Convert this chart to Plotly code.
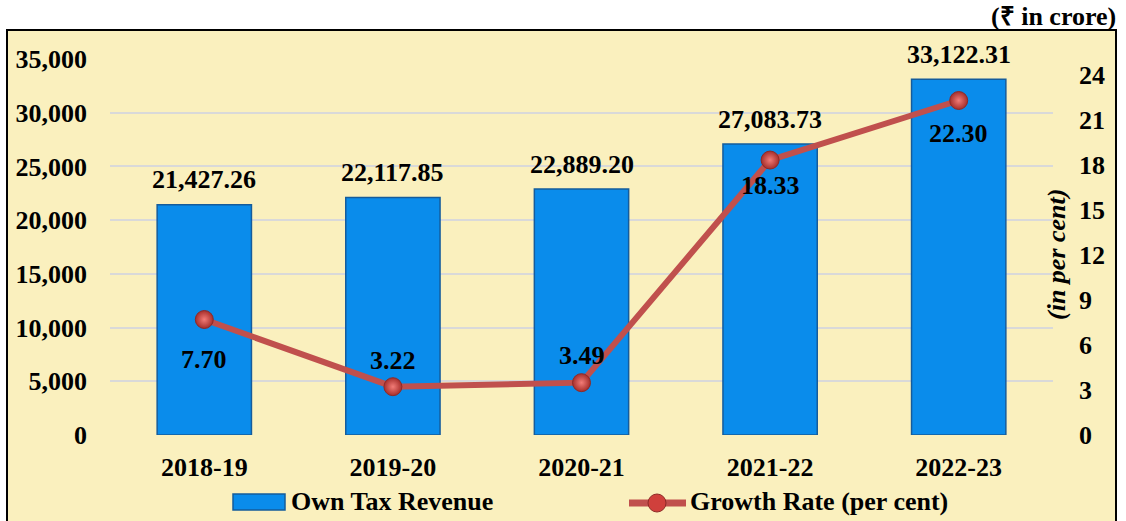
import plotly.graph_objects as go

years = ["2018-19", "2019-20", "2020-21", "2021-22", "2022-23"]
own_tax_revenue = [21427.26, 22117.85, 22889.20, 27083.73, 33122.31]
growth_rate = [7.70, 3.22, 3.49, 18.33, 22.30]
growth_label_shift = [-40, 26, 27, -25, -33]   # label offset (px) from point

FONT = "Liberation Serif"
BG = "#FAF0BE"
FS = 26

# plot area in pixels: x 110..1053, y 59..435
PL, PR, PT, PB = 110, 1053, 59, 435
def px(x):
    return (x - PL) / (PR - PL)
def py(y):
    return (PB - y) / (PB - PT)

fig = go.Figure()

fig.add_trace(go.Bar(
    x=years, y=own_tax_revenue, name="Own Tax Revenue",
    marker=dict(color="#0A8CEB", line=dict(color="#155C9C", width=1.5)),
    width=0.5, yaxis="y", showlegend=False,
))

fig.add_trace(go.Scatter(
    x=years, y=growth_rate, name="Growth Rate (per cent)", yaxis="y2",
    mode="lines+markers",
    line=dict(color="#C0504D", width=6),
    marker=dict(size=18, color="#A62E2B",
                gradient=dict(type="radial", color="#F27C77"),
                line=dict(color="#8E2A27", width=1)),
    showlegend=False,
))

bold = dict(family=FONT, size=FS, color="black", weight="bold")
annotations = []
for x, v in zip(years, own_tax_revenue):
    annotations.append(dict(x=x, y=v, xref="x", yref="y", text=f"{v:,.2f}",
                            showarrow=False, yanchor="middle", yshift=25, font=bold))
for x, v, s in zip(years, growth_rate, growth_label_shift):
    annotations.append(dict(x=x, y=v, xref="x", yref="y2", text=f"{v:.2f}",
                            showarrow=False, yanchor="middle", yshift=s, font=bold))
annotations.append(dict(x=px(1057), xref="paper", xanchor="center",
                        y=py(255), yref="paper", yanchor="middle",
                        text="<i>(in per cent)</i>", textangle=-90, showarrow=False,
                        font=bold))
annotations.append(dict(x=px(1118), xref="paper", xanchor="right",
                        y=py(16), yref="paper", yanchor="middle",
                        text="(₹ in crore)", showarrow=False, font=bold))
# legend texts
annotations.append(dict(x=px(289), xref="paper", xanchor="left",
                        y=py(502), yref="paper", yanchor="middle",
                        text="Own Tax Revenue", showarrow=False, font=bold))
annotations.append(dict(x=px(688), xref="paper", xanchor="left",
                        y=py(502), yref="paper", yanchor="middle",
                        text="Growth Rate (per cent)", showarrow=False, font=bold))

shapes = [
    dict(type="rect", xref="paper", yref="paper",
         x0=px(7), x1=px(1116), y0=py(530), y1=py(30),
         fillcolor=BG, line=dict(color="black", width=2), layer="below"),
    # legend symbols
    dict(type="rect", xref="paper", yref="paper",
         x0=px(233), x1=px(285), y0=py(510), y1=py(494),
         fillcolor="#0A8CEB", line=dict(color="#155C9C", width=1.5)),
    dict(type="line", xref="paper", yref="paper",
         x0=px(629), x1=px(686), y0=py(503), y1=py(503),
         line=dict(color="#C0504D", width=7)),
    dict(type="circle", xref="paper", yref="paper",
         x0=px(648), x1=px(666), y0=py(512), y1=py(494),
         fillcolor="#D0403C", line=dict(color="#8E2A27", width=1)),
]

fig.update_layout(
    width=1126, height=521,
    margin=dict(l=PL, r=1126 - PR, t=PT, b=521 - PB, autoexpand=False),
    paper_bgcolor="white", plot_bgcolor=BG,
    font=bold,
    showlegend=False,
    xaxis=dict(showgrid=False, ticks="", ticklabelstandoff=14, showline=False,
               tickfont=bold),
    yaxis=dict(range=[0, 35000], tickvals=list(range(0, 35001, 5000)),
               tickformat=",d", showgrid=True, gridcolor="#D9D9D9", gridwidth=2,
               zeroline=False, ticklabelstandoff=22, showline=False, tickfont=bold),
    yaxis2=dict(range=[0, (PB - PT) / 15], tickvals=list(range(0, 25, 3)), overlaying="y",
                side="right", showgrid=False, zeroline=False, ticklabelstandoff=25,
                showline=False, tickfont=bold),
    annotations=annotations,
    shapes=shapes,
)

fig.write_html("out.html", config={"displayModeBar": False},
               post_script="document.body.style.margin='0px';document.body.style.overflow='hidden';")
